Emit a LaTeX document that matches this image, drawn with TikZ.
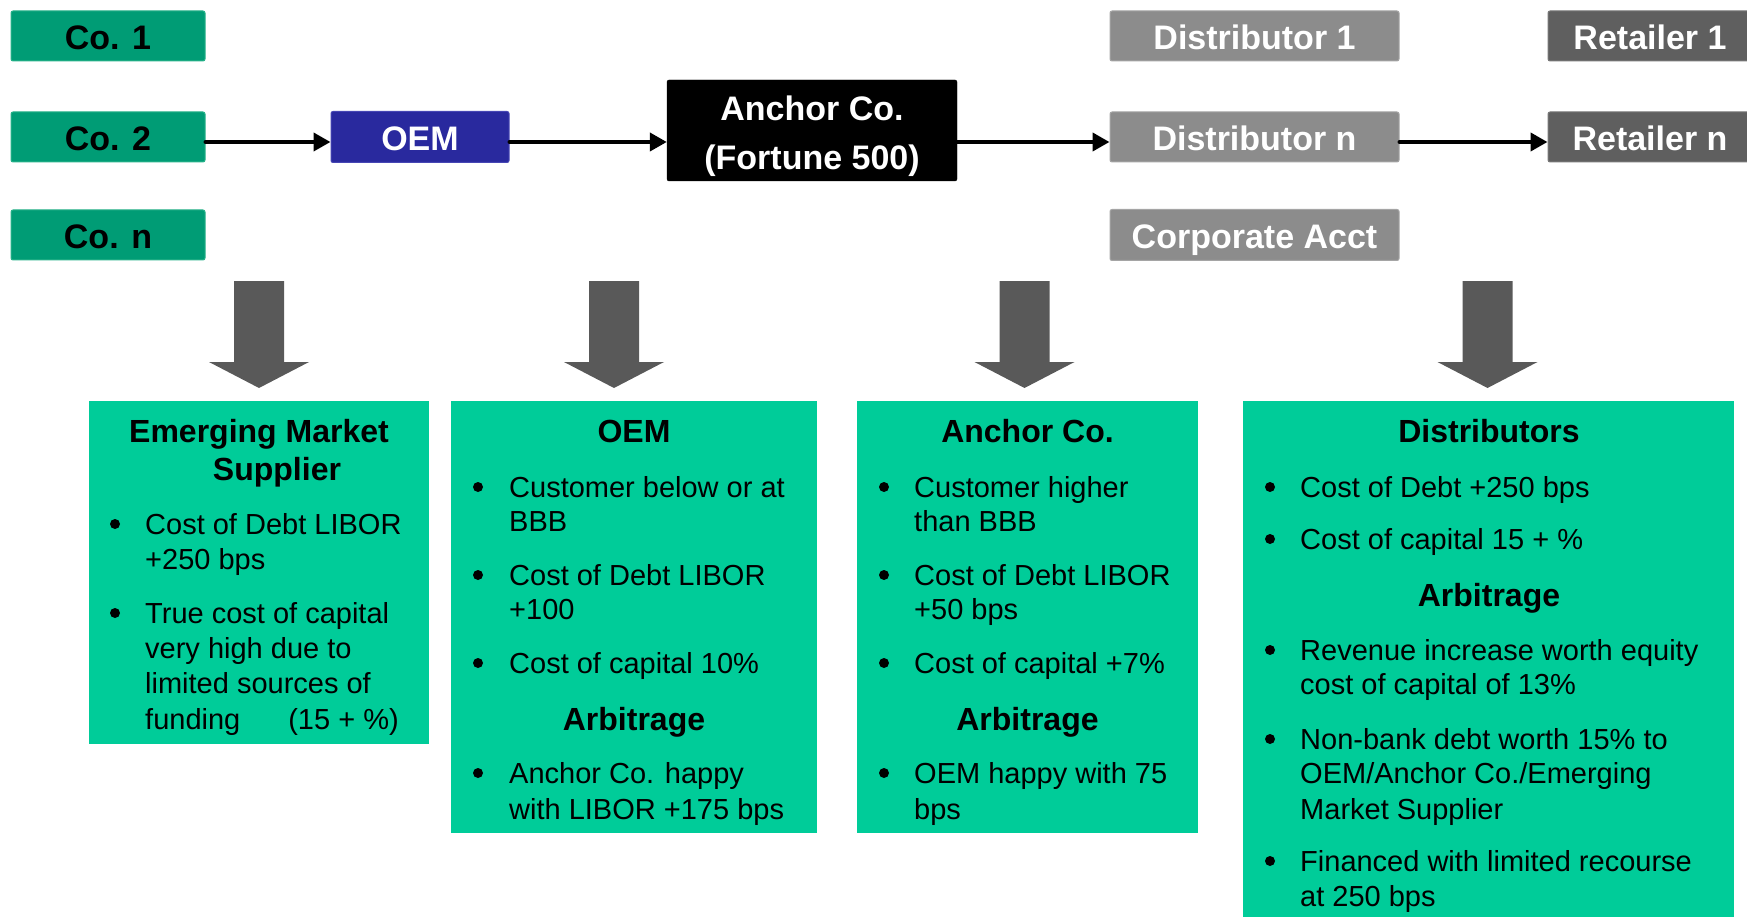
\documentclass[tikz,border=0pt]{standalone}
\usepackage{fontspec}
\setmainfont{Liberation Sans}
\usetikzlibrary{arrows.meta}
\definecolor{cogreen}{RGB}{0,156,117}
\definecolor{coedge}{RGB}{40,178,138}
\definecolor{oemblue}{RGB}{41,41,158}
\definecolor{oemedge}{RGB}{70,70,180}
\definecolor{distgray}{RGB}{140,140,140}
\definecolor{distedge}{RGB}{165,165,165}
\definecolor{retgray}{RGB}{95,95,95}
\definecolor{retedge}{RGB}{120,120,120}
\definecolor{boxgreen}{RGB}{0,204,153}
\definecolor{arrgray}{RGB}{89,89,89}
\newcounter{tl}
\newcommand\tline[3]{\stepcounter{tl}\node[bodytxt] (t\thetl) at (#1,#2+10) {#3};}
\newcommand\bitem[4]{\fill (#1,#3) circle[radius=5pt];\tline{#2}{#3}{#4}}
\newcommand\thead[3]{\stepcounter{tl}\node[headtxt] (t\thetl) at (#1,#2+11.5) {#3};}
\newcommand\blockarrow[1]{\fill[arrgray] ({#1-25},281) -- ({#1+25},281) -- ({#1+25},362) -- ({#1+50},362) -- (#1,388) -- ({#1-50},362) -- ({#1-25},362) -- cycle;}
\begin{document}
\begin{tikzpicture}[x=1pt,y=-1pt,
  topbox/.style={rectangle, rounded corners=2pt, inner sep=0pt, line width=1pt,
    font=\fontsize{34}{49}\selectfont\bfseries, align=center, text height=27.5pt, text depth=0pt},
  cobox/.style={topbox, fill=cogreen, draw=coedge, text=black, minimum width=194, minimum height=50},
  oembox/.style={topbox, fill=oemblue, draw=oemedge, text=white, minimum width=178, minimum height=51},
  ancbox/.style={rectangle, rounded corners=2pt, inner sep=0pt, fill=black, draw=black, minimum width=290, minimum height=101},
  anctxt/.style={inner sep=0pt, text=white, font=\fontsize{34}{49}\selectfont\bfseries, align=center},
  distbox/.style={topbox, fill=distgray, draw=distedge, text=white, minimum width=289, minimum height=50},
  retbox/.style={topbox, fill=retgray, draw=retedge, text=white, minimum width=204, minimum height=50},
  infobox/.style={rectangle, fill=boxgreen, inner sep=0pt},
  bodytxt/.style={anchor=base west, inner sep=0pt, font=\fontsize{29}{34}\selectfont},
  headtxt/.style={anchor=base, inner sep=0pt, font=\fontsize{32}{38}\selectfont\bfseries},
  flow/.style={line width=4pt, line cap=round, -{Triangle[length=17pt,width=18pt]}}]
\useasboundingbox (0,0) rectangle (1747,917);

% top row
\node[cobox] (co1) at (108,36) {Co. 1};
\node[cobox] (co2) at (108,137) {Co. 2};
\node[cobox] (con) at (108,235) {Co. n};
\node[oembox] (oem) at (420,137) {OEM};
\node[ancbox] (anchor) at (812,130.5) {};
\node[anctxt] (anchortxt) at (812,136) {Anchor Co.\\(Fortune 500)};
\node[distbox] (dist1) at (1254.5,36) {Distributor 1};
\node[distbox] (distn) at (1254.5,137) {Distributor n};
\node[distbox, minimum height=51] (corp) at (1254.5,235) {Corporate Acct};
\node[retbox] (ret1) at (1650,36) {Retailer 1};
\node[retbox] (retn) at (1650,137) {Retailer n};

\draw[flow] ([yshift=-5pt]co2.east) -- ([yshift=-5pt]oem.west);
\draw[flow] ([yshift=-5pt]oem.east) -- ([yshift=-5pt]oem.east -| anchor.west);
\draw[flow] ([yshift=-5pt]distn.west -| anchor.east) -- ([yshift=-5pt]distn.west);
\draw[flow] ([yshift=-5pt]distn.east) -- ([yshift=-5pt]retn.west);

% block arrows
\blockarrow{259}
\blockarrow{614}
\blockarrow{1024.5}
\blockarrow{1487.5}

% info boxes
\node[infobox, minimum width=340, minimum height=343] (b1) at (259,572.5) {};
\node[infobox, minimum width=366, minimum height=432] (b2) at (634,617) {};
\node[infobox, minimum width=341, minimum height=432] (b3) at (1027.5,617) {};
\node[infobox, minimum width=491, minimum height=516] (b4) at (1488.5,659) {};

% box 1
\thead{259}{431}{Emerging Market}
\thead{277}{469}{Supplier}
\bitem{115}{145}{524}{Cost of Debt LIBOR}
\tline{145}{559}{+250 bps}
\bitem{115}{145}{613}{True cost of capital}
\tline{145}{648}{very high due to}
\tline{145}{683}{limited sources of}
\tline{145}{719}{funding\hspace{48pt}(15 + \%)}

% box 2
\thead{634}{431}{OEM}
\bitem{478}{509}{487}{Customer below or at}
\tline{509}{521}{BBB}
\bitem{478}{509}{575}{Cost of Debt LIBOR}
\tline{509}{609}{+100}
\bitem{478}{509}{663}{Cost of capital 10\%}
\thead{634}{719}{Arbitrage}
\bitem{478}{509}{773}{Anchor Co. happy}
\tline{509}{809}{with LIBOR +175 bps}

% box 3
\thead{1027.5}{431}{Anchor Co.}
\bitem{884}{914}{487}{Customer higher}
\tline{914}{521}{than BBB}
\bitem{884}{914}{575}{Cost of Debt LIBOR}
\tline{914}{609}{+50 bps}
\bitem{884}{914}{663}{Cost of capital +7\%}
\thead{1027.5}{719}{Arbitrage}
\bitem{884}{914}{773}{OEM happy with 75}
\tline{914}{809}{bps}

% box 4
\thead{1489}{431}{Distributors}
\bitem{1270}{1300}{487}{Cost of Debt +250 bps}
\bitem{1270}{1300}{539}{Cost of capital 15 + \%}
\thead{1489}{595}{Arbitrage}
\bitem{1270}{1300}{650}{Revenue increase worth equity}
\tline{1300}{684}{cost of capital of 13\%}
\bitem{1270}{1300}{739}{Non-bank debt worth 15\% to}
\tline{1300}{773}{OEM/Anchor Co./Emerging}
\tline{1300}{809}{Market Supplier}
\bitem{1270}{1300}{861}{Financed with limited recourse}
\tline{1300}{896}{at 250 bps}
\end{tikzpicture}
\end{document}
